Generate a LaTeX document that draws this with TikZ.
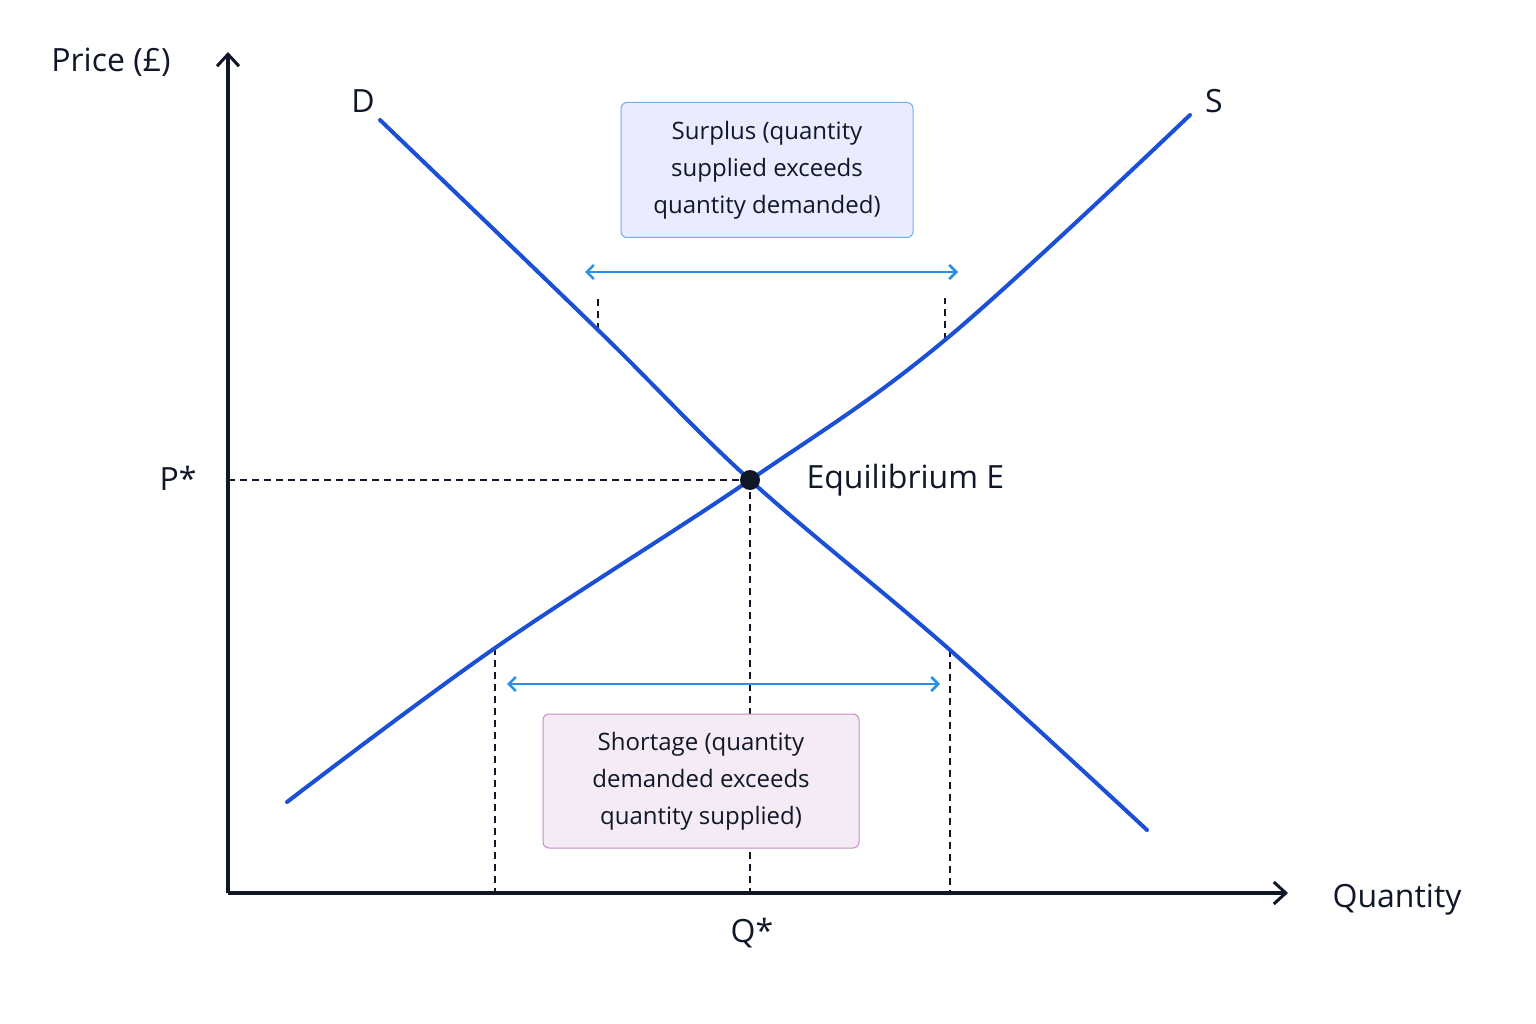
\documentclass[tikz,border=0pt]{standalone}
\usepackage{fontspec}
\setmainfont{Open Sans}
\usetikzlibrary{arrows.meta}
\definecolor{curve}{HTML}{1A4FD6}
\definecolor{ax}{HTML}{101828}
\definecolor{arr}{HTML}{2B8FE6}
\begin{document}
\begin{tikzpicture}[x=1pt,y=-1pt,
 axis/.style={line width=3.5pt,ax,-{Straight Barb[length=12pt,width=22pt,line width=3pt]}},
 crv/.style={line width=4pt,curve,line cap=round},
 dsh/.style={line width=1.8pt,ax,dash pattern=on 7pt off 5pt},
 dbl/.style={line width=2.5pt,arr,{Straight Barb[length=7pt,width=14pt]}-{Straight Barb[length=7pt,width=14pt]}},
 lab/.style={font=\fontsize{32}{38}\selectfont,text=ax},
 box/.style={draw,rounded corners=6pt,line width=1pt,align=center,font=\fontsize{24}{37}\selectfont,text=ax,inner sep=0pt}]
\useasboundingbox (0,0) rectangle (1536,1024);
\fill[white] (0,0) rectangle (1536,1024);
\coordinate (O) at (228,893);
\coordinate (Ytop) at (228,52);
\coordinate (Xend) at (1288,893);
\coordinate (E) at (750,480);
\coordinate (Py) at (228,480);
\coordinate (Qx) at (750,893);
\coordinate (Sa) at (495,648); \coordinate (Sa0) at (495,893);
\coordinate (Da) at (950,650); \coordinate (Da0) at (950,893);
\coordinate (Db) at (598,330); \coordinate (Db0) at (598,298);
\coordinate (Sb) at (945,340); \coordinate (Sb0) at (945,298);
\draw[dsh] (Py) -- (E);
\draw[dsh] (E) -- (Qx);
\draw[dsh] (Sa) -- (Sa0);
\draw[dsh] (Da) -- (Da0);
\draw[dsh] (Db) -- (Db0);
\draw[dsh] (Sb) -- (Sb0);
\draw[axis] (O) -- (Ytop);
\draw[axis] (O) -- (Xend);
\draw[crv] plot[smooth,tension=0.6] coordinates {(380,120) (598,330) (750,480) (950,650) (1147,830)};
\draw[crv] plot[smooth,tension=0.6] coordinates {(287,802) (495,648) (750,480) (945,340) (1190,115)};
\fill[ax] (E) circle (10pt);
\coordinate (A1) at (585,272); \coordinate (A2) at (958,272);
\coordinate (B1) at (507,684); \coordinate (B2) at (940,684);
\draw[dbl] (A1) -- (A2);
\draw[dbl] (B1) -- (B2);
\node[box,fill=blue!8,draw=arr!70,minimum width=292pt,minimum height=135pt] (sur) at (767,170) {Surplus (quantity\\supplied exceeds\\quantity demanded)};
\node[box,fill=violet!8,draw=violet!45,minimum width=316pt,minimum height=134pt] (sho) at (701,781) {Shortage (quantity\\demanded exceeds\\quantity supplied)};
\node[lab] (py) at (111,62) {Price (£)};
\node[lab] (d) at (363,101) {D};
\node[lab] (s) at (1214,101) {S};
\node[lab] (ps) at (178,478) {P*};
\node[lab,anchor=west] (eq) at (803,480) {Equilibrium E};
\node[lab] (qt) at (1397,900) {Quantity};
\node[lab] (qs) at (752,933) {Q*};
\end{tikzpicture}
\end{document}
